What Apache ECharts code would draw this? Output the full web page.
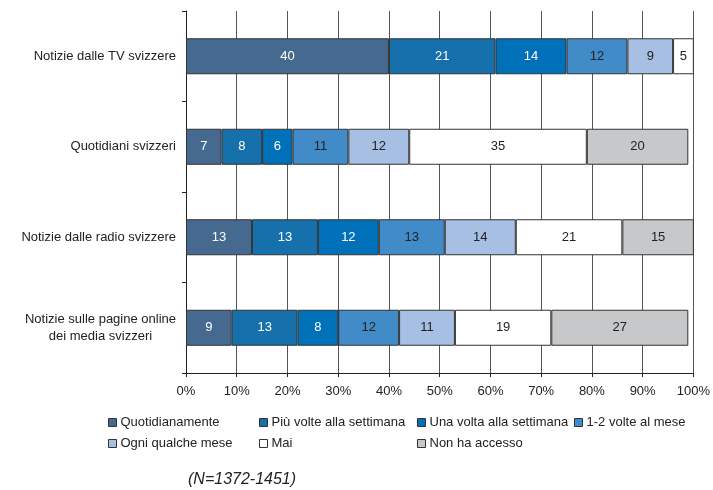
<!DOCTYPE html>
<html>
<head>
<meta charset="utf-8">
<script src="https://cdn.jsdelivr.net/npm/echarts@6/dist/echarts.min.js"></script>
<style>
  html, body { margin: 0; padding: 0; background: #fff; }
  #chart { width: 713px; height: 490px; }
</style>
</head>
<body>
<div id="chart"></div>
<script>
// Media categories (top to bottom)
const categories = [
  'Notizie dalle TV svizzere',
  'Quotidiani svizzeri',
  'Notizie dalle radio svizzere',
  'Notizie sulle pagine online\ndei media svizzeri'
];

// Frequency of use, percentages per category
const quotidianamente   = [40, 7, 13, 9];
const piuVolteSettimana = [21, 8, 13, 13];
const unaVoltaSettimana = [14, 6, 12, 8];
const unoDueVolteMese   = [12, 11, 13, 12];
const ogniQualcheMese   = [9, 12, 14, 11];
const mai               = [5, 35, 21, 19];
const nonHaAccesso      = [null, 20, 15, 27];

const seriesNames = [
  'Quotidianamente',
  'Più volte alla settimana',
  'Una volta alla settimana',
  '1-2 volte al mese',
  'Ogni qualche mese',
  'Mai',
  'Non ha accesso'
];
const seriesValues = [
  quotidianamente, piuVolteSettimana, unaVoltaSettimana,
  unoDueVolteMese, ogniQualcheMese, mai, nonHaAccesso
];

const xTicks = [0, 10, 20, 30, 40, 50, 60, 70, 80, 90, 100];

const colors = ['#46698F', '#1570AC', '#0070B8', '#418BC9', '#A6BFE3', '#FFFFFF', '#C7C8CA'];
const labelColors = ['#FFFFFF', '#FFFFFF', '#FFFFFF', '#222222', '#222222', '#222222', '#222222'];

const FONT = '"Liberation Sans", Arial, sans-serif';

const chart = echarts.init(document.getElementById('chart'), null, { renderer: 'canvas' });

const series = seriesNames.map((name, i) => ({
  name,
  type: 'bar',
  stack: 'total',
  barWidth: 36,
  data: seriesValues[i],
  itemStyle: { color: colors[i], borderColor: '#333', borderWidth: 1 },
  label: {
    show: true,
    position: 'inside',
    color: labelColors[i],
    fontSize: 13,
    fontFamily: FONT,
    formatter: p => (p.value == null ? '' : String(p.value))
  },
  emphasis: { disabled: true },
  animation: false
}));

// Legend laid out as a two-row grid
const legendSlots = [
  { left: 108, top: 416 }, { left: 259, top: 416 }, { left: 417, top: 416 }, { left: 574, top: 416 },
  { left: 108, top: 437 }, { left: 259, top: 437 }, { left: 417, top: 437 }
];
const legends = seriesNames.map((name, i) => ({
  data: [name],
  left: legendSlots[i].left,
  top: legendSlots[i].top,
  icon: 'rect',
  itemWidth: 8,
  itemHeight: 8,
  itemGap: 4,
  padding: 0,
  selectedMode: false,
  itemStyle: { borderColor: '#333', borderWidth: 1 },
  textStyle: { fontSize: 13, color: '#222', fontFamily: FONT, padding: [0, 0, 0, -1] }
}));

chart.setOption({
  animation: false,
  grid: { left: 186, right: 15, top: 11, bottom: 117 },
  legend: legends,
  xAxis: {
    type: 'value',
    min: xTicks[0],
    max: xTicks[xTicks.length - 1],
    interval: 10,
    axisLine: { show: true, lineStyle: { color: '#222', width: 1 } },
    axisTick: { show: true, length: 4, lineStyle: { color: '#222' } },
    axisLabel: {
      formatter: '{value}%',
      fontSize: 13,
      color: '#222',
      fontFamily: FONT,
      margin: 12
    },
    splitLine: { show: true, lineStyle: { color: '#555', width: 1 } }
  },
  yAxis: {
    type: 'category',
    data: categories,
    inverse: true,
    axisLine: { show: true, lineStyle: { color: '#222', width: 1 } },
    axisTick: { show: true, length: 4, alignWithLabel: false, lineStyle: { color: '#222' } },
    axisLabel: {
      fontSize: 13,
      color: '#222',
      fontFamily: FONT,
      margin: 10,
      lineHeight: 17,
      formatter: v => v.split('\n').map(s => '{c|' + s + '}').join('\n'),
      rich: { c: { align: 'center', fontSize: 13, color: '#222', fontFamily: FONT, lineHeight: 17 } }
    },
    splitLine: { show: false }
  },
  graphic: [{
    type: 'text',
    left: 188,
    top: 472,
    style: {
      text: '(N=1372-1451)',
      font: 'italic 16px ' + FONT,
      fill: '#222'
    }
  }],
  series
});
</script>
</body>
</html>
